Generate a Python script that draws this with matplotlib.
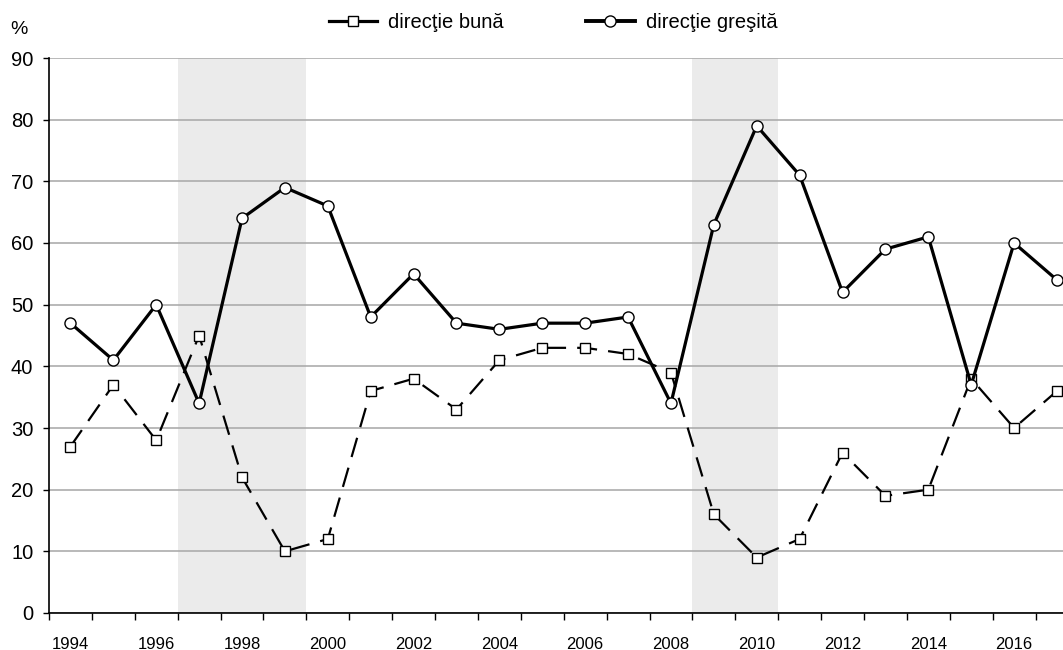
import matplotlib
matplotlib.use('Agg')
import matplotlib.pyplot as plt
from matplotlib.lines import Line2D
import numpy as np

plt.rcParams['font.family'] = ['Liberation Sans', 'DejaVu Sans']

years = list(range(1994, 2018))
buna = [27, 37, 28, 45, 22, 10, 12, 36, 38, 33, 41, 43, 43, 42, 39, 16, 9, 12, 26, 19, 20, 38, 30, 36]
gresita = [47, 41, 50, 34, 64, 69, 66, 48, 55, 47, 46, 47, 47, 48, 34, 63, 79, 71, 52, 59, 61, 37, 60, 54]
shaded = [(1997, 1999), (2009, 2010)]

fig = plt.figure(figsize=(10.63, 6.5), dpi=100)
ax = fig.add_axes([49 / 1063, 1 - 613 / 650, 1 - 49 / 1063, (613 - 58) / 650])

x = np.arange(len(years))

# shaded periods
for a, b in shaded:
    ax.axvspan(years.index(a) - 0.5, years.index(b) + 0.5, color='#ebebeb', zorder=0, lw=0)

ax.set_yticks(range(0, 91, 10))
ax.yaxis.grid(True, color='#a6a6a6', lw=1.1, zorder=0.5)
ax.set_axisbelow(True)

ax.plot(x, buna, color='black', lw=1.6, dashes=(9, 5), marker='s', ms=7.5,
        mfc='white', mec='black', mew=1.0, zorder=3)
ax.plot(x, gresita, color='black', lw=2.3, marker='o', ms=8,
        mfc='white', mec='black', mew=1.0, zorder=4)

for s in ['top', 'right']:
    ax.spines[s].set_visible(False)
ax.spines['left'].set_linewidth(1.2)
ax.spines['bottom'].set_linewidth(1.2)

ax.set_xticks(np.arange(-0.5, len(years), 1))
ax.set_xticklabels([])
ax.tick_params(axis='x', which='major', length=5, width=1, direction='out')
ax.set_xticks(x[::2], minor=True)
ax.set_xticklabels([str(y) for y in years[::2]], minor=True, fontsize=12)
ax.tick_params(axis='x', which='minor', length=0, pad=17)
ax.tick_params(axis='y', length=4.3, width=1, pad=7, labelsize=14.5)

# limits after ticks (set_xticks widens the view)
ax.set_xlim(-0.5, 23.14)
ax.set_ylim(0, 90)

fig.text(10 / 1063, 1 - 29 / 650, '%', fontsize=14, va='center', ha='left')

h1 = Line2D([], [], color='black', lw=2.3, marker='s', ms=7.5, mfc='white', mec='black', mew=1.0)
h2 = Line2D([], [], color='black', lw=2.8, marker='o', ms=8, mfc='white', mec='black', mew=1.0)
fig.legend([h1, h2], ['direcţie bună', 'direcţie greşită'], loc='center',
           bbox_to_anchor=(553 / 1063, 1 - 23 / 650), ncol=2, frameon=False,
           fontsize=14.5, handlelength=2.4, columnspacing=4.1, handletextpad=0.55)

fig.savefig('out.png', dpi=100)
